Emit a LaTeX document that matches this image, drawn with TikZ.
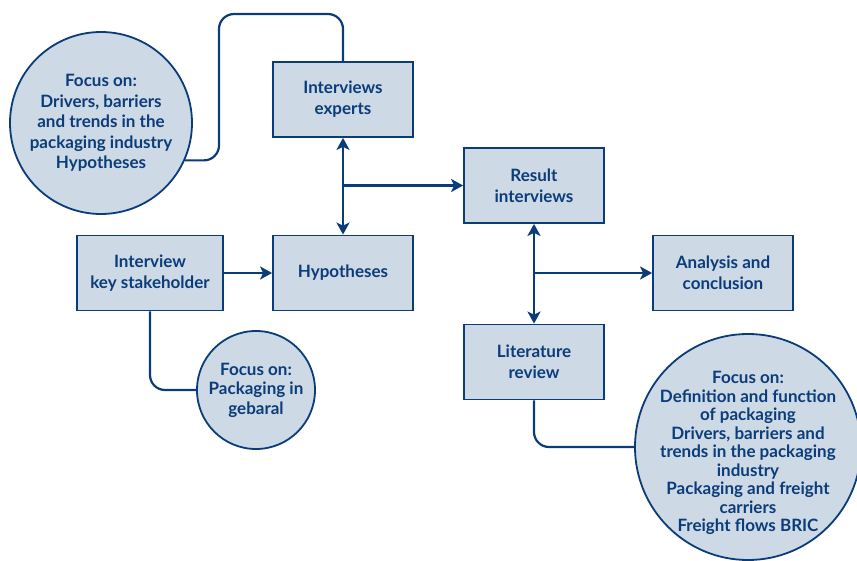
\documentclass[tikz,border=0pt]{standalone}
\usepackage{fontspec}
\setmainfont{Lato}
\usetikzlibrary{arrows.meta}
\definecolor{navy}{HTML}{0B3C7A}
\definecolor{pale}{HTML}{CDD9E5}
\begin{document}
\begin{tikzpicture}[x=1pt,y=-1pt,
  stepbox/.style={draw=navy,fill=pale,line width=1.8pt,minimum width=140pt,
    minimum height=75pt,inner sep=0pt,align=center,text=navy,
    font=\bfseries\fontsize{17}{21}\selectfont},
  focus/.style={circle,draw=navy,fill=pale,line width=1.8pt,inner sep=0pt},
  focustext/.style={align=center,text=navy,inner sep=0pt},
  link/.style={draw=navy,line width=2.2pt},
  tip/.style={-{Stealth[length=12pt,width=13pt,inset=3pt]}},
  both/.style={{Stealth[length=12pt,width=13pt,inset=3pt]}-{Stealth[length=12pt,width=13pt,inset=3pt]}}
]
\useasboundingbox (0,0) rectangle (857,561);

% process steps
\node[stepbox] (ie) at (343,99.5) {Interviews\\experts};
\node[stepbox] (hy) at (343,273) {Hypotheses};
\node[stepbox,minimum width=146pt] (ks) at (150,273) {Interview\\key stakeholder};
\node[stepbox] (ri) at (534,185.5) {Result\\interviews};
\node[stepbox] (an) at (723,273) {Analysis and\\conclusion};
\node[stepbox] (lr) at (534,362) {Literature\\review};

% focus bubbles and their texts
\node[focus,minimum size=182pt] (tl) at (101,123) {};
\node[focustext,font=\bfseries\fontsize{17}{20.5}\selectfont] (tltext) at (tl.center)
  {Focus on:\\Drivers, barriers\\and trends in the\\packaging industry\\Hypotheses};
\node[focus,minimum size=118pt] (sm) at (256,390) {};
\node[focustext,font=\bfseries\fontsize{17}{19.5}\selectfont] (smtext) at (sm.center)
  {Focus on:\\Packaging in\\gebaral};
\node[focus,minimum size=226pt] (br) at (748,447) {};
\node[focustext,font=\bfseries\fontsize{17}{18.5}\selectfont,yshift=-6pt] (brtext) at (br.center)
  {Focus on:\\Definition and function\\of packaging\\Drivers, barriers and\\trends in the packaging\\industry\\Packaging and freight\\carriers\\Freight flows BRIC};

% route of the upper link
\coordinate (r1) at (219,14);

% connectors
\draw[link,rounded corners=15pt] (tl.-24) -| (r1) -| (ie.north);
\draw[link,both] (ie.south) -- (hy.north);
\draw[link,tip] (ie.south |- ri.west) -- (ri.west);
\draw[link,tip] (ks.east) -- (hy.west);
\draw[link,rounded corners=15pt] (ks.south) |- (sm.west);
\draw[link,both] (ri.south) -- (lr.north);
\draw[link,tip] (ri.south |- an.west) -- (an.west);
\draw[link,rounded corners=15pt] (lr.south) |- (br.west);
\end{tikzpicture}
\end{document}
